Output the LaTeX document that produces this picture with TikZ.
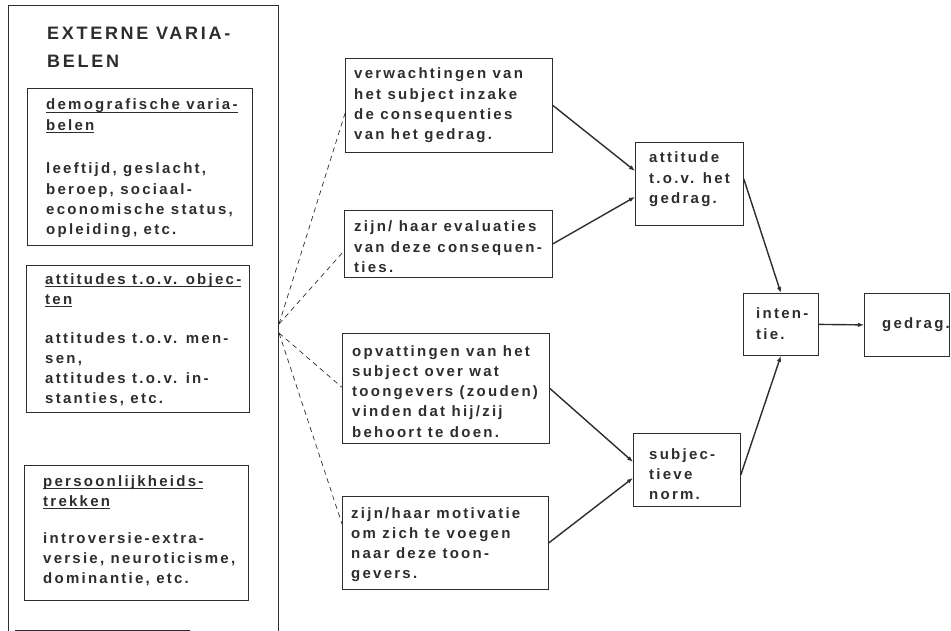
\documentclass[tikz,border=0pt]{standalone}
\usepackage{fontspec}
\usetikzlibrary{arrows.meta,calc}
\setmainfont{Liberation Sans}
\newfontfamily\bodyfont{Liberation Sans Bold}[LetterSpace=15]
\newfontfamily\titlefont{Liberation Sans Bold}[LetterSpace=15]
\definecolor{ink}{RGB}{45,45,45}
\newcommand\myul[1]{\leavevmode\setbox0\hbox{#1}\rlap{\rule[-2.6pt]{\wd0}{0.8pt}}\box0}
\tikzset{
  box/.style={draw=ink, line width=0.8pt, inner sep=0, anchor=north west},
  txt/.style={anchor=base west, inner sep=0, text=ink,
    font=\bodyfont\fontsize{15}{20.3}\selectfont},
  ttl/.style={anchor=base west, inner sep=0, text=ink,
    font=\titlefont\fontsize{18}{28}\selectfont},
  conn/.style={draw=ink, line width=1.4pt, -{Latex[length=6pt,width=4.5pt]}},
  dashline/.style={draw=ink, line width=0.7pt, dash pattern=on 5pt off 4pt}
}
\newcommand\lines[2]{\parbox[t]{#1}{\raggedright #2}}
\begin{document}
\begin{tikzpicture}[x=1pt,y=-1pt]
\useasboundingbox (0,0) rectangle (951,631);
% outer frame
\node[box, minimum width=270, minimum height=660] (outer) at (8,5) {};
\coordinate (bl1) at (15,630);
\coordinate (bl2) at (190,630);
\draw[draw=ink, line width=0.8pt] (bl1) -- (bl2);
\node[ttl] (title) at (47,40) {\lines{230pt}{EXTERNE VARIA-\\BELEN}};
% left boxes
\node[box, minimum width=225, minimum height=157] (b1) at (27,88) {};
\node[txt] (b1h) at (46,110) {\lines{230pt}{\myul{demografische varia-}\\\myul{belen}}};
\node[txt] (b1t) at (46,174) {\lines{230pt}{leeftijd, geslacht,\\beroep, sociaal-\\economische status,\\opleiding, etc.}};
\node[box, minimum width=223, minimum height=147] (b2) at (26,265) {};
\node[txt] (b2h) at (45,284) {\lines{230pt}{\myul{attitudes t.o.v. objec-}\\\myul{ten}}};
\node[txt] (b2t) at (45,343) {\lines{230pt}{attitudes t.o.v. men-\\sen,\\attitudes t.o.v. in-\\stanties, etc.}};
\node[box, minimum width=224, minimum height=135] (b3) at (24,465) {};
\node[txt] (b3h) at (43,486) {\lines{230pt}{\myul{persoonlijkheids-}\\\myul{trekken}}};
\node[txt] (b3t) at (43,543) {\lines{230pt}{introversie-extra-\\versie, neuroticisme,\\dominantie, etc.}};
% middle boxes
\node[box, minimum width=207, minimum height=94] (m1) at (345,58) {};
\node[txt] (m1t) at (354,79) {\lines{210pt}{verwachtingen van\\het subject inzake\\de consequenties\\van het gedrag.}};
\node[box, minimum width=208, minimum height=67] (m2) at (344,210) {};
\node[txt] (m2t) at (354,232) {\lines{210pt}{zijn/ haar evaluaties\\van deze consequen-\\ties.}};
\node[box, minimum width=207, minimum height=110] (m3) at (342,333) {};
\node[txt] (m3t) at (352,356) {\lines{210pt}{opvattingen van het\\subject over wat\\toongevers (zouden)\\vinden dat hij/zij\\behoort te doen.}};
\node[box, minimum width=206, minimum height=93] (m4) at (342,496) {};
\node[txt] (m4t) at (351,518) {\lines{210pt}{zijn/haar motivatie\\om zich te voegen\\naar deze toon-\\gevers.}};
% right boxes
\node[box, minimum width=108, minimum height=83] (A) at (635,142) {};
\node[txt] (At) at (649,163) {\lines{100pt}{attitude\\t.o.v. het\\gedrag.}};
\node[box, minimum width=107, minimum height=73] (S) at (633,433) {};
\node[txt] (St) at (649,459) {\lines{100pt}{subjec-\\tieve\\norm.}};
\node[box, minimum width=75, minimum height=62] (I) at (743,293) {};
\node[txt] (It) at (756,319) {\lines{70pt}{inten-\\tie.}};
\node[box, minimum width=85, minimum height=63] (G) at (864,293) {};
\node[txt] (Gt) at (882,328) {gedrag.};
% solid connectors
\draw[conn] (m1.east) -- ($(A.west)+(0,-13)$);
\draw[conn] (m2.east) -- ($(A.west)+(0,13)$);
\draw[conn] (m3.east) -- ($(S.west)+(0,-8)$);
\draw[conn] (m4.east) -- ($(S.west)+(0,8)$);
\draw[conn] ($(A.east)+(0,-5)$) -- (I.north);
\draw[conn] ($(S.east)+(0,5)$) -- (I.south);
\draw[conn] (I.east) -- (G.west);
% dashed fan
\coordinate (d1) at (279,324);
\coordinate (d2) at (279,333);
\draw[dashline] (d1) -- ($(m1.west)+(0,8)$);
\draw[dashline] (d1) -- ($(m2.west)+(0,7)$);
\draw[dashline] (d2) -- ($(m3.west)+(0,-1)$);
\draw[dashline] (d2) -- ($(m4.west)+(0,-19)$);
\end{tikzpicture}
\end{document}
